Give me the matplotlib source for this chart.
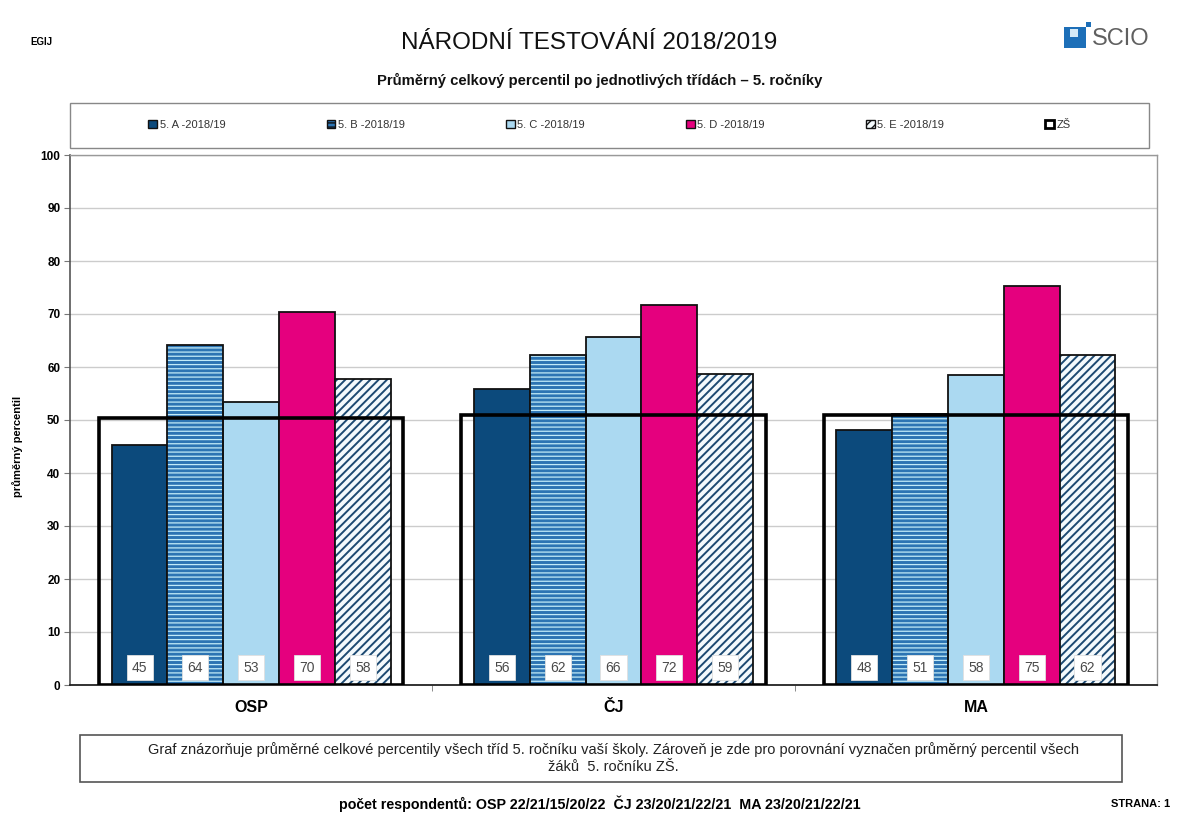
import matplotlib
matplotlib.use("Agg")
import matplotlib.pyplot as plt
import numpy as np
from matplotlib.patches import Rectangle, Patch

plt.rcParams['font.family'] = ['Liberation Sans', 'DejaVu Sans']

categories = ["OSP", "ČJ", "MA"]
series_names = ["5. A -2018/19", "5. B -2018/19", "5. C -2018/19", "5. D -2018/19", "5. E -2018/19"]
class_a = [45.3, 55.9, 48.1]
class_b = [64.2, 62.2, 51.1]
class_c = [53.4, 65.7, 58.4]
class_d = [70.4, 71.7, 75.2]
class_e = [57.7, 58.7, 62.3]
zs_values = [50.4, 50.9, 50.9]
zs_name = "ZŠ"
yticks = list(range(0, 101, 10))

series = [class_a, class_b, class_c, class_d, class_e]
faces = ["#0c4a7c", "#2c74b3", "#abd9f1", "#e5007e", "#f4fafd"]
hatches = [None, "----", None, None, "////"]
hatch_cols = [None, "#c2ebf8", None, None, "#1d4a72"]
hatch_lws = [None, 0.9, None, None, 1.4]

fig = plt.figure(figsize=(11.79, 8.17), dpi=100)
W, H = 1179, 817
def fx(px): return px / W
def fy(py): return 1 - py / H

ax = fig.add_axes([fx(70), fy(685), fx(1157) - fx(70), fy(155) - fy(685)])
x = np.arange(len(categories))
bw = 0.154
zw = 0.84

for i, vals in enumerate(series):
    pos = x + (i - 2) * bw
    if hatches[i]:
        with plt.rc_context({'hatch.linewidth': hatch_lws[i]}):
            bars = ax.bar(pos, vals, bw, color=faces[i], hatch=hatches[i], edgecolor=hatch_cols[i],
                          linewidth=0, zorder=3)
        for b in bars:
            if hasattr(b, "set_hatch_linewidth"):
                b.set_hatch_linewidth(hatch_lws[i])
        ax.bar(pos, vals, bw, facecolor="none", edgecolor="#111111", linewidth=1.3, zorder=4)
    else:
        ax.bar(pos, vals, bw, color=faces[i], edgecolor="#111111", linewidth=1.3, zorder=3)
    for xp, v in zip(pos, vals):
        ax.text(xp, 3.3, f"{round(v):d}", ha="center", va="center", fontsize=10, color="#4a4a4a",
                zorder=6,
                bbox=dict(boxstyle="square,pad=0.38", facecolor="white", edgecolor="#e0e0e0", linewidth=0.6))

ax.bar(x, zs_values, zw, facecolor="none", edgecolor="black", linewidth=2.6, zorder=5)

ax.set_xlim(-0.5, 2.5)
ax.set_ylim(0, 100)
ax.set_yticks(yticks)
ax.set_yticklabels([str(t) for t in yticks], fontsize=8.5, fontweight="bold")
ax.set_xticks(x)
ax.set_xticklabels(categories, fontsize=11.5, fontweight="bold")
ax.set_xticks([0.5, 1.5], minor=True)
ax.tick_params(axis="x", which="major", length=0, pad=11)
ax.tick_params(axis="x", which="minor", length=4, direction="out", color="#777777")
ax.tick_params(axis="y", length=4, direction="out", color="#777777", pad=3)
ax.yaxis.grid(True, color="#cccccc", linewidth=1.0, zorder=0)
ax.set_axisbelow(True)
for s in ["top", "right"]:
    ax.spines[s].set_color("#999999")
    ax.spines[s].set_linewidth(1.0)
ax.spines["left"].set_color("#555555")
ax.spines["left"].set_linewidth(1.2)
ax.spines["bottom"].set_color("#222222")
ax.spines["bottom"].set_linewidth(1.3)
ax.set_ylabel("průměrný percentil", fontsize=8, fontweight="bold")
ax.yaxis.set_label_coords(-0.043, 0.45)

# Legend
handles = []
for i in range(5):
    handles.append(Patch(facecolor=faces[i], edgecolor="#111111", hatch=hatches[i] if hatches[i] else None,
                         linewidth=1.0))
handles.append(Patch(facecolor="white", edgecolor="black", linewidth=2.0))
labels = series_names + [zs_name]
fig.add_artist(Rectangle((fx(70), fy(148)), fx(1149) - fx(70), fy(103) - fy(148),
                         transform=fig.transFigure, facecolor="white", edgecolor="#888888", linewidth=1.0))
leg = fig.legend(handles, labels, ncol=6, mode="expand", frameon=False,
                 bbox_to_anchor=(fx(144), fy(140), fx(1075) - fx(144), fy(110) - fy(140)),
                 loc="center", fontsize=8, handlelength=0.8, handleheight=0.8, handletextpad=0.2,
                 borderaxespad=0)
for t in leg.get_texts():
    t.set_color("#333333")

# Titles
fig.text(0.5, fy(43), "NÁRODNÍ TESTOVÁNÍ 2018/2019", ha="center", va="center", fontsize=17.5,
         color="#111111")
fig.text(fx(600), fy(80), "Průměrný celkový percentil po jednotlivých třídách – 5. ročníky", ha="center",
         va="center", fontsize=10.7, fontweight="bold", color="#111111")
fig.text(fx(30), fy(42), "EGIJ", ha="left", va="center", fontsize=7, fontweight="bold")

# SCIO logo
fig.add_artist(Rectangle((fx(1064), fy(48)), fx(22), fy(27) - fy(48),
                         transform=fig.transFigure, facecolor="#1d6fb8", edgecolor="none"))
fig.add_artist(Rectangle((fx(1070), fy(37)), fx(8), fy(29) - fy(37),
                         transform=fig.transFigure, facecolor="#d5eaf7", edgecolor="none"))
fig.add_artist(Rectangle((fx(1086), fy(27)), fx(5), fy(22) - fy(27),
                         transform=fig.transFigure, facecolor="#1d6fb8", edgecolor="none"))
fig.text(fx(1092), fy(39), "SCIO", ha="left", va="center", fontsize=17, color="#606060")

# Note box
fig.add_artist(Rectangle((fx(80), fy(782)), fx(1122) - fx(80), fy(735) - fy(782),
                         transform=fig.transFigure, facecolor="white", edgecolor="#555555", linewidth=1.2))
fig.text(fx(613), fy(758),
         "Graf znázorňuje průměrné celkové percentily všech tříd 5. ročníku vaší školy. Zároveň je zde pro porovnání vyznačen průměrný percentil všech\nžáků  5. ročníku ZŠ.",
         ha="center", va="center", fontsize=10.5, color="#222222", linespacing=1.2)

fig.text(fx(600), fy(804), "počet respondentů: OSP 22/21/15/20/22  ČJ 23/20/21/22/21  MA 23/20/21/22/21",
         ha="center", va="center", fontsize=10.3, fontweight="bold")
fig.text(fx(1170), fy(804), "STRANA: 1", ha="right", va="center", fontsize=8, fontweight="bold")

fig.savefig("out.png", dpi=100)
